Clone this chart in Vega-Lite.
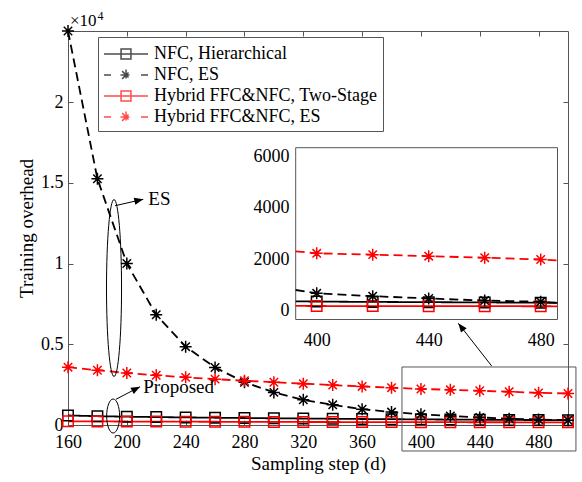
{
  "$schema": "https://vega.github.io/schema/vega-lite/v6.json",
  "width": 500,
  "height": 394,
  "autosize": "none",
  "padding": {"left": 68, "top": 31, "right": 14, "bottom": 57},
  "background": "white",
  "config": {
    "font": "Liberation Serif",
    "view": {"stroke": null},
    "axis": {"labelFont": "Liberation Serif", "labelFontSize": 18, "labelColor": "#000", "titleFont": "Liberation Serif", "titleFontSize": 19, "titleFontWeight": "normal", "titleColor": "#000000", "domainColor": "#555", "tickColor": "#555", "domainWidth": 1, "tickWidth": 1, "grid": false, "tickSize": -5, "labelFlush": false, "labelOverlap": false},
    "legend": {"labelFont": "Liberation Serif"},
    "text": {"font": "Liberation Serif"}
  },
  "datasets": {
    "d": [
      {"x": 160, "y": 590, "s": "NFC, Hierarchical"},
      {"x": 180, "y": 545, "s": "NFC, Hierarchical"},
      {"x": 200, "y": 515, "s": "NFC, Hierarchical"},
      {"x": 220, "y": 490, "s": "NFC, Hierarchical"},
      {"x": 240, "y": 470, "s": "NFC, Hierarchical"},
      {"x": 260, "y": 450, "s": "NFC, Hierarchical"},
      {"x": 280, "y": 432, "s": "NFC, Hierarchical"},
      {"x": 300, "y": 415, "s": "NFC, Hierarchical"},
      {"x": 320, "y": 400, "s": "NFC, Hierarchical"},
      {"x": 340, "y": 385, "s": "NFC, Hierarchical"},
      {"x": 360, "y": 372, "s": "NFC, Hierarchical"},
      {"x": 380, "y": 360, "s": "NFC, Hierarchical"},
      {"x": 400, "y": 348, "s": "NFC, Hierarchical"},
      {"x": 420, "y": 336, "s": "NFC, Hierarchical"},
      {"x": 440, "y": 326, "s": "NFC, Hierarchical"},
      {"x": 460, "y": 316, "s": "NFC, Hierarchical"},
      {"x": 480, "y": 306, "s": "NFC, Hierarchical"},
      {"x": 500, "y": 298, "s": "NFC, Hierarchical"},
      {"x": 160, "y": 24400, "s": "NFC, ES"},
      {"x": 180, "y": 15250, "s": "NFC, ES"},
      {"x": 200, "y": 10000, "s": "NFC, ES"},
      {"x": 220, "y": 6830, "s": "NFC, ES"},
      {"x": 240, "y": 4850, "s": "NFC, ES"},
      {"x": 260, "y": 3560, "s": "NFC, ES"},
      {"x": 280, "y": 2650, "s": "NFC, ES"},
      {"x": 300, "y": 2020, "s": "NFC, ES"},
      {"x": 320, "y": 1560, "s": "NFC, ES"},
      {"x": 340, "y": 1250, "s": "NFC, ES"},
      {"x": 360, "y": 980, "s": "NFC, ES"},
      {"x": 380, "y": 800, "s": "NFC, ES"},
      {"x": 400, "y": 670, "s": "NFC, ES"},
      {"x": 420, "y": 560, "s": "NFC, ES"},
      {"x": 440, "y": 470, "s": "NFC, ES"},
      {"x": 460, "y": 390, "s": "NFC, ES"},
      {"x": 480, "y": 340, "s": "NFC, ES"},
      {"x": 500, "y": 300, "s": "NFC, ES"},
      {"x": 160, "y": 230, "s": "Hybrid FFC&NFC, Two-Stage"},
      {"x": 180, "y": 222, "s": "Hybrid FFC&NFC, Two-Stage"},
      {"x": 200, "y": 215, "s": "Hybrid FFC&NFC, Two-Stage"},
      {"x": 220, "y": 210, "s": "Hybrid FFC&NFC, Two-Stage"},
      {"x": 240, "y": 205, "s": "Hybrid FFC&NFC, Two-Stage"},
      {"x": 260, "y": 200, "s": "Hybrid FFC&NFC, Two-Stage"},
      {"x": 280, "y": 196, "s": "Hybrid FFC&NFC, Two-Stage"},
      {"x": 300, "y": 192, "s": "Hybrid FFC&NFC, Two-Stage"},
      {"x": 320, "y": 188, "s": "Hybrid FFC&NFC, Two-Stage"},
      {"x": 340, "y": 185, "s": "Hybrid FFC&NFC, Two-Stage"},
      {"x": 360, "y": 182, "s": "Hybrid FFC&NFC, Two-Stage"},
      {"x": 380, "y": 179, "s": "Hybrid FFC&NFC, Two-Stage"},
      {"x": 400, "y": 176, "s": "Hybrid FFC&NFC, Two-Stage"},
      {"x": 420, "y": 173, "s": "Hybrid FFC&NFC, Two-Stage"},
      {"x": 440, "y": 171, "s": "Hybrid FFC&NFC, Two-Stage"},
      {"x": 460, "y": 169, "s": "Hybrid FFC&NFC, Two-Stage"},
      {"x": 480, "y": 167, "s": "Hybrid FFC&NFC, Two-Stage"},
      {"x": 500, "y": 165, "s": "Hybrid FFC&NFC, Two-Stage"},
      {"x": 160, "y": 3580, "s": "Hybrid FFC&NFC, ES"},
      {"x": 180, "y": 3390, "s": "Hybrid FFC&NFC, ES"},
      {"x": 200, "y": 3220, "s": "Hybrid FFC&NFC, ES"},
      {"x": 220, "y": 3080, "s": "Hybrid FFC&NFC, ES"},
      {"x": 240, "y": 2950, "s": "Hybrid FFC&NFC, ES"},
      {"x": 260, "y": 2840, "s": "Hybrid FFC&NFC, ES"},
      {"x": 280, "y": 2740, "s": "Hybrid FFC&NFC, ES"},
      {"x": 300, "y": 2650, "s": "Hybrid FFC&NFC, ES"},
      {"x": 320, "y": 2560, "s": "Hybrid FFC&NFC, ES"},
      {"x": 340, "y": 2470, "s": "Hybrid FFC&NFC, ES"},
      {"x": 360, "y": 2390, "s": "Hybrid FFC&NFC, ES"},
      {"x": 380, "y": 2310, "s": "Hybrid FFC&NFC, ES"},
      {"x": 400, "y": 2230, "s": "Hybrid FFC&NFC, ES"},
      {"x": 420, "y": 2180, "s": "Hybrid FFC&NFC, ES"},
      {"x": 440, "y": 2120, "s": "Hybrid FFC&NFC, ES"},
      {"x": 460, "y": 2060, "s": "Hybrid FFC&NFC, ES"},
      {"x": 480, "y": 1990, "s": "Hybrid FFC&NFC, ES"},
      {"x": 500, "y": 1950, "s": "Hybrid FFC&NFC, ES"}
    ]
  },
  "data": {"name": "d"},
  "resolve": {"scale": {"x": "independent", "y": "independent"}},
  "layer": [
    {
      "layer": [
        {
          "transform": [{"filter": "false"}],
          "mark": {"type": "point", "filled": false},
          "encoding": {
            "x": {"field": "x", "type": "quantitative", "scale": {"domain": [160, 500], "nice": false, "zero": false}, "axis": {"orient": "bottom", "values": [160, 200, 240, 280, 320, 360, 400, 440, 480], "title": "Sampling step (d)", "labelPadding": 13, "titleY": 44, "titleBaseline": "alphabetic", "titleColor": "#000000"}},
            "y": {"field": "y", "type": "quantitative", "scale": {"domain": [0, 24400], "nice": false, "zero": false}, "axis": {"orient": "left", "values": [0, 5000, 10000, 15000, 20000], "labelExpr": "'' + datum.value / 10000", "title": "Training overhead", "labelPadding": 10, "titleX": -36, "titleY": 197, "titleBaseline": "alphabetic", "titleAngle": -90, "titleAlign": "center", "titleColor": "#000000"}},
            "color": {"field": "s", "type": "nominal", "scale": {"domain": ["NFC, Hierarchical", "NFC, ES", "Hybrid FFC&NFC, Two-Stage", "Hybrid FFC&NFC, ES"], "range": ["#000000", "#000000", "#ff0000", "#ff0000"]},
              "legend": {"orient": "none", "legendX": 30, "legendY": 6, "title": null, "padding": 5, "strokeColor": "#555", "fillColor": "white", "labelFont": "Liberation Serif", "labelFontSize": 18, "labelColor": "#000", "labelOffset": 27, "symbolSize": 484, "symbolStrokeWidth": 1.5, "rowPadding": 0, "labelLimit": 400}},
            "shape": {"field": "s", "type": "nominal", "scale": {"domain": ["NFC, Hierarchical", "NFC, ES", "Hybrid FFC&NFC, Two-Stage", "Hybrid FFC&NFC, ES"], "range": ["M-1,0L3,0M0.55,-0.45L1.45,-0.45L1.45,0.45L0.55,0.45Z", "M-1,0L-0.36,0M2.36,0L3,0M1,-0.5L1,0.5M0.5,0L1.5,0M0.65,-0.35L1.35,0.35M0.65,0.35L1.35,-0.35", "M-1,0L3,0M0.55,-0.45L1.45,-0.45L1.45,0.45L0.55,0.45Z", "M-1,0L-0.36,0M2.36,0L3,0M1,-0.5L1,0.5M0.5,0L1.5,0M0.65,-0.35L1.35,0.35M0.65,0.35L1.35,-0.35"]},
              "legend": {"orient": "none", "legendX": 30, "legendY": 6, "title": null, "padding": 5, "strokeColor": "#555", "fillColor": "white", "labelFont": "Liberation Serif", "labelFontSize": 18, "labelColor": "#000", "labelOffset": 27, "symbolSize": 484, "symbolStrokeWidth": 1.5, "rowPadding": 0, "labelLimit": 400}}
          }
        },
        {
          "mark": {"type": "line", "strokeWidth": 1.8},
          "encoding": {
            "x": {"field": "x", "type": "quantitative", "scale": {"domain": [160, 500], "nice": false, "zero": false}},
            "y": {"field": "y", "type": "quantitative", "scale": {"domain": [0, 24400], "nice": false, "zero": false}},
            "color": {"field": "s", "type": "nominal", "scale": {"domain": ["NFC, Hierarchical", "NFC, ES", "Hybrid FFC&NFC, Two-Stage", "Hybrid FFC&NFC, ES"], "range": ["#000000", "#000000", "#ff0000", "#ff0000"]}},
            "strokeDash": {"field": "s", "type": "nominal", "scale": {"domain": ["NFC, Hierarchical", "NFC, ES", "Hybrid FFC&NFC, Two-Stage", "Hybrid FFC&NFC, ES"], "range": [[1, 0], [9, 5], [1, 0], [9, 5]]}, "legend": null}
          }
        },
        {
          "transform": [{"filter": {"field": "s", "oneOf": ["NFC, Hierarchical", "Hybrid FFC&NFC, Two-Stage"]}}],
          "mark": {"type": "point", "shape": "square", "size": 110, "filled": false, "strokeWidth": 1.5, "opacity": 1},
          "encoding": {
            "x": {"field": "x", "type": "quantitative", "scale": {"domain": [160, 500], "nice": false, "zero": false}},
            "y": {"field": "y", "type": "quantitative", "scale": {"domain": [0, 24400], "nice": false, "zero": false}},
            "color": {"field": "s", "type": "nominal", "scale": {"domain": ["NFC, Hierarchical", "NFC, ES", "Hybrid FFC&NFC, Two-Stage", "Hybrid FFC&NFC, ES"], "range": ["#000000", "#000000", "#ff0000", "#ff0000"]}}
          }
        },
        {
          "transform": [{"filter": {"field": "s", "oneOf": ["NFC, ES", "Hybrid FFC&NFC, ES"]}}],
          "mark": {"type": "point", "shape": "M0,-1L0,1M-1,0L1,0M-0.7,-0.7L0.7,0.7M-0.7,0.7L0.7,-0.7", "size": 144, "filled": false, "strokeWidth": 1.5, "opacity": 1},
          "encoding": {
            "x": {"field": "x", "type": "quantitative", "scale": {"domain": [160, 500], "nice": false, "zero": false}},
            "y": {"field": "y", "type": "quantitative", "scale": {"domain": [0, 24400], "nice": false, "zero": false}},
            "color": {"field": "s", "type": "nominal", "scale": {"domain": ["NFC, Hierarchical", "NFC, ES", "Hybrid FFC&NFC, Two-Stage", "Hybrid FFC&NFC, ES"], "range": ["#000000", "#000000", "#ff0000", "#ff0000"]}}
          }
        }
      ]
    },
    {
      "layer": [
        {
          "data": {"values": [{}]},
          "mark": {"type": "point", "shape": "M0,-1A0.085,1,0,1,1,0,1A0.085,1,0,1,1,0,-1Z", "size": 31329, "filled": false, "stroke": "#000", "strokeWidth": 1, "opacity": 1},
          "encoding": {
            "x": {"datum": 191.3, "type": "quantitative", "scale": {"domain": [160, 500], "nice": false, "zero": false}, "axis": {"orient": "top", "values": [160, 200, 240, 280, 320, 360, 400, 440, 480], "labels": false, "title": null}},
            "y": {"datum": 8484, "type": "quantitative", "scale": {"domain": [0, 24400], "nice": false, "zero": false}, "axis": {"orient": "right", "values": [0, 5000, 10000, 15000, 20000], "labels": false, "title": null}}
          }
        },
        {
          "data": {"values": [{}]},
          "mark": {"type": "point", "shape": "M0,-1A0.38,1,0,1,1,0,1A0.38,1,0,1,1,0,-1Z", "size": 1156, "filled": false, "stroke": "#000", "strokeWidth": 1, "opacity": 1},
          "encoding": {"x": {"datum": 190.7, "type": "quantitative"}, "y": {"datum": 557, "type": "quantitative"}}
        },
        {
          "data": {"values": [{}]},
          "mark": {"type": "rule", "stroke": "#000", "strokeWidth": 1},
          "encoding": {"x": {"datum": 192.0, "type": "quantitative"}, "y": {"datum": 13581, "type": "quantitative"}, "x2": {"datum": 211.2}, "y2": {"datum": 13977}}
        },
        {
          "data": {"values": [{}]},
          "mark": {"type": "rule", "stroke": "#000", "strokeWidth": 1},
          "encoding": {"x": {"datum": 192.6, "type": "quantitative"}, "y": {"datum": 1592, "type": "quantitative"}, "x2": {"datum": 209.0}, "y2": {"datum": 2372}}
        },
        {
          "data": {"values": [{}]},
          "mark": {"type": "rule", "stroke": "#000", "strokeWidth": 1},
          "encoding": {"x": {"datum": 448.1, "type": "quantitative"}, "y": {"datum": 3654, "type": "quantitative"}, "x2": {"datum": 425.4}, "y2": {"datum": 6298}}
        },
        {
          "data": {"values": [{}]},
          "mark": {"type": "point", "shape": "M0,0L-0.4,1L0.4,1Z", "size": 324, "filled": true, "fill": "#000", "opacity": 1, "angle": 77},
          "encoding": {"x": {"datum": 211.2, "type": "quantitative"}, "y": {"datum": 13977, "type": "quantitative"}}
        },
        {
          "data": {"values": [{}]},
          "mark": {"type": "point", "shape": "M0,0L-0.4,1L0.4,1Z", "size": 324, "filled": true, "fill": "#000", "opacity": 1, "angle": 62},
          "encoding": {"x": {"datum": 209.0, "type": "quantitative"}, "y": {"datum": 2372, "type": "quantitative"}}
        },
        {
          "data": {"values": [{}]},
          "mark": {"type": "point", "shape": "M0,0L-0.4,1L0.4,1Z", "size": 324, "filled": true, "fill": "#000", "opacity": 1, "angle": -38},
          "encoding": {"x": {"datum": 425.4, "type": "quantitative"}, "y": {"datum": 6298, "type": "quantitative"}}
        },
        {
          "data": {"values": [{}]},
          "mark": {"type": "rect", "filled": false, "stroke": "#555", "strokeWidth": 1},
          "encoding": {"x": {"datum": 387.1, "type": "quantitative"}, "x2": {"datum": 505.4}, "y": {"datum": 3592, "type": "quantitative"}, "y2": {"datum": -1610}}
        },
        {
          "data": {"values": [{}]},
          "mark": {"type": "text", "text": "ES", "align": "left", "baseline": "middle", "fontSize": 19, "color": "#000"},
          "encoding": {"x": {"datum": 214.6, "type": "quantitative"}, "y": {"datum": 13996, "type": "quantitative"}}
        },
        {
          "data": {"values": [{}]},
          "mark": {"type": "text", "text": "Proposed", "align": "left", "baseline": "middle", "fontSize": 19, "color": "#000"},
          "encoding": {"x": {"datum": 211.2, "type": "quantitative"}, "y": {"datum": 2353, "type": "quantitative"}}
        },
        {
          "data": {"values": [{}]},
          "mark": {"type": "text", "text": "×10", "align": "left", "baseline": "alphabetic", "fontSize": 17, "dx": 2, "dy": -5, "color": "#000"},
          "encoding": {"x": {"datum": 160, "type": "quantitative"}, "y": {"datum": 24400, "type": "quantitative"}}
        },
        {
          "data": {"values": [{}]},
          "mark": {"type": "text", "text": "4", "align": "left", "baseline": "alphabetic", "fontSize": 12, "dx": 29.5, "dy": -11, "color": "#000"},
          "encoding": {"x": {"datum": 160, "type": "quantitative"}, "y": {"datum": 24400, "type": "quantitative"}}
        }
      ]
    },
    {
      "layer": [
        {
          "data": {"values": [{}]},
          "mark": {"type": "rect", "fill": "white", "stroke": "#555", "strokeWidth": 1},
          "encoding": {
            "x": {"datum": 392.5, "type": "quantitative", "scale": {"domain": [392.5, 486], "range": [227.7, 489.5], "nice": false, "zero": false, "clamp": true}, "axis": {"orient": "bottom", "offset": -105.5, "values": [400, 440, 480], "title": null, "labelPadding": 16.5, "domain": false, "format": "d"}},
            "x2": {"datum": 486},
            "y": {"datum": -350, "type": "quantitative", "scale": {"domain": [-350, 6350], "range": [288.5, 116.7], "nice": false, "zero": false}, "axis": {"orient": "left", "offset": -227.7, "values": [0, 2000, 4000, 6000], "title": null, "labelPadding": 11.7, "domain": false, "format": "d"}},
            "y2": {"datum": 6350}
          }
        },
        {
          "transform": [{"filter": {"field": "x", "range": [380, 500]}}],
          "mark": {"type": "line", "strokeWidth": 1.8},
          "encoding": {
            "x": {"field": "x", "type": "quantitative", "scale": {"domain": [392.5, 486], "range": [227.7, 489.5], "nice": false, "zero": false, "clamp": true}},
            "y": {"field": "y", "type": "quantitative", "scale": {"domain": [-350, 6350], "range": [288.5, 116.7], "nice": false, "zero": false}},
            "color": {"field": "s", "type": "nominal", "scale": {"domain": ["NFC, Hierarchical", "NFC, ES", "Hybrid FFC&NFC, Two-Stage", "Hybrid FFC&NFC, ES"], "range": ["#000000", "#000000", "#ff0000", "#ff0000"]}},
            "strokeDash": {"field": "s", "type": "nominal", "scale": {"domain": ["NFC, Hierarchical", "NFC, ES", "Hybrid FFC&NFC, Two-Stage", "Hybrid FFC&NFC, ES"], "range": [[1, 0], [9, 5], [1, 0], [9, 5]]}, "legend": null}
          }
        },
        {
          "transform": [{"filter": {"field": "x", "range": [400, 480]}}, {"filter": {"field": "s", "oneOf": ["NFC, Hierarchical", "Hybrid FFC&NFC, Two-Stage"]}}],
          "mark": {"type": "point", "shape": "square", "size": 110, "filled": false, "strokeWidth": 1.5, "opacity": 1},
          "encoding": {
            "x": {"field": "x", "type": "quantitative", "scale": {"domain": [392.5, 486], "range": [227.7, 489.5], "nice": false, "zero": false, "clamp": true}},
            "y": {"field": "y", "type": "quantitative", "scale": {"domain": [-350, 6350], "range": [288.5, 116.7], "nice": false, "zero": false}},
            "color": {"field": "s", "type": "nominal", "scale": {"domain": ["NFC, Hierarchical", "NFC, ES", "Hybrid FFC&NFC, Two-Stage", "Hybrid FFC&NFC, ES"], "range": ["#000000", "#000000", "#ff0000", "#ff0000"]}}
          }
        },
        {
          "transform": [{"filter": {"field": "x", "range": [400, 480]}}, {"filter": {"field": "s", "oneOf": ["NFC, ES", "Hybrid FFC&NFC, ES"]}}],
          "mark": {"type": "point", "shape": "M0,-1L0,1M-1,0L1,0M-0.7,-0.7L0.7,0.7M-0.7,0.7L0.7,-0.7", "size": 144, "filled": false, "strokeWidth": 1.5, "opacity": 1},
          "encoding": {
            "x": {"field": "x", "type": "quantitative", "scale": {"domain": [392.5, 486], "range": [227.7, 489.5], "nice": false, "zero": false, "clamp": true}},
            "y": {"field": "y", "type": "quantitative", "scale": {"domain": [-350, 6350], "range": [288.5, 116.7], "nice": false, "zero": false}},
            "color": {"field": "s", "type": "nominal", "scale": {"domain": ["NFC, Hierarchical", "NFC, ES", "Hybrid FFC&NFC, Two-Stage", "Hybrid FFC&NFC, ES"], "range": ["#000000", "#000000", "#ff0000", "#ff0000"]}}
          }
        }
      ]
    }
  ]
}
